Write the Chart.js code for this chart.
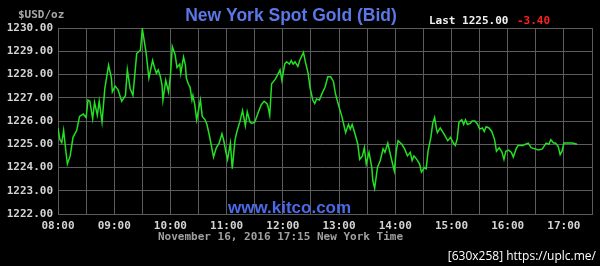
<!DOCTYPE html>
<html>
<head>
<meta charset="utf-8">
<script src="https://cdn.jsdelivr.net/npm/chart.js@4.4.0/dist/chart.umd.min.js"></script>
<style>
  html, body { margin: 0; padding: 0; background: #000; }
</style>
</head>
<body>
<canvas id="gold" width="600" height="266"></canvas>
<script>
// New York spot gold bid, Nov 16 2016
const times = [
  '08:00','08:02','08:04','08:06','08:08','08:10','08:13','08:16','08:20','08:23',
  '08:27','08:30','08:32','08:34','08:37','08:39','08:42','08:44','08:47','08:50',
  '08:54','08:57','08:58','09:01','09:04','09:08','09:12','09:14','09:17','09:20',
  '09:24','09:28','09:30','09:34','09:37','09:41','09:43','09:45','09:47','09:49',
  '09:51','09:52','09:55','09:58','10:00','10:02','10:05','10:07','10:10','10:11',
  '10:14','10:16','10:17','10:19','10:21','10:23','10:24','10:26','10:28','10:32',
  '10:34','10:37','10:39','10:42','10:46','10:49','10:52','10:55','10:57','10:59',
  '11:01','11:04','11:06','11:09','11:11','11:14','11:17','11:20','11:22','11:25',
  '11:27','11:30','11:34','11:37','11:40','11:43','11:44','11:46','11:48','11:52',
  '11:54','11:57','11:59','12:02','12:04','12:07','12:09','12:11','12:13','12:16',
  '12:18','12:22','12:24','12:27','12:29','12:32','12:34','12:36','12:39','12:42',
  '12:45','12:48','12:51','12:54','12:56','13:00','13:03','13:05','13:07','13:10',
  '13:12','13:14','13:17','13:20','13:22','13:25','13:27','13:29','13:32','13:35',
  '13:36','13:38','13:41','13:44','13:47','13:49','13:52','13:54','13:56','13:59',
  '14:01','14:03','14:07','14:10','14:13','14:16','14:18','14:20','14:23','14:26',
  '14:28','14:31','14:33','14:35','14:38','14:40','14:42','14:44','14:45','14:48',
  '14:52','14:56','14:59','15:02','15:04','15:06','15:08','15:11','15:13','15:15',
  '15:17','15:20','15:22','15:25','15:28','15:30','15:33','15:35','15:37','15:40',
  '15:43','15:46','15:48','15:51','15:54','15:56','15:58','16:01','16:04','16:06',
  '16:09','16:11','16:16','16:19','16:22','16:25','16:29','16:33','16:37','16:41',
  '16:44','16:46','16:49','16:51','16:54','16:56','16:58','17:00','17:03','17:09',
  '17:14'
];
const bids = [
  1225.70,1225.20,1225.07,1225.60,1224.85,1224.15,1224.50,1225.30,1225.60,1226.20,
  1226.30,1226.15,1226.90,1226.85,1226.10,1226.80,1226.25,1226.85,1225.95,1227.40,
  1228.40,1227.85,1227.25,1227.50,1227.35,1226.85,1227.10,1228.20,1227.40,1227.10,
  1228.90,1229.05,1229.97,1228.95,1227.85,1228.60,1228.30,1228.05,1228.20,1227.95,
  1227.55,1226.90,1227.75,1227.25,1227.95,1229.20,1228.85,1228.30,1228.45,1228.05,
  1228.75,1228.40,1227.85,1227.60,1227.45,1226.90,1227.10,1226.70,1226.05,1226.90,
  1226.20,1226.05,1225.85,1225.30,1224.45,1224.85,1225.05,1225.45,1225.15,1224.70,
  1224.35,1225.05,1223.95,1225.20,1225.55,1225.95,1226.45,1225.80,1226.40,1225.95,
  1225.90,1225.95,1226.40,1226.70,1226.85,1226.75,1226.65,1226.25,1227.60,1227.80,
  1227.95,1228.20,1227.75,1228.45,1228.55,1228.45,1228.60,1228.45,1228.55,1228.35,
  1228.60,1228.95,1228.55,1228.05,1227.45,1226.90,1226.75,1226.95,1226.90,1227.20,
  1227.45,1227.90,1227.90,1227.70,1227.20,1226.60,1226.20,1225.85,1225.50,1225.85,
  1225.65,1225.85,1225.45,1225.00,1224.35,1224.50,1224.85,1224.15,1224.65,1224.00,
  1223.45,1223.10,1224.00,1224.30,1224.80,1224.65,1225.05,1224.70,1224.35,1223.85,
  1224.70,1225.15,1225.00,1224.80,1224.50,1224.65,1224.30,1224.50,1224.35,1224.15,
  1223.80,1224.00,1223.95,1224.70,1225.30,1225.90,1226.15,1225.65,1225.50,1225.70,
  1225.45,1225.15,1225.30,1225.05,1224.95,1225.20,1225.95,1226.05,1225.85,1226.05,
  1225.85,1225.90,1226.00,1226.00,1225.85,1225.65,1225.70,1225.55,1225.75,1225.70,
  1225.55,1225.20,1224.70,1224.85,1224.65,1224.35,1224.70,1224.75,1224.65,1224.45,
  1224.80,1224.95,1224.95,1225.00,1225.05,1224.85,1224.80,1224.75,1224.80,1225.05,
  1225.00,1225.20,1225.05,1225.05,1224.90,1224.55,1224.70,1225.05,1225.05,1225.05,
  1225.00
];
const priceTicks = [1222, 1223, 1224, 1225, 1226, 1227, 1228, 1229, 1230];
const hourLabels = ['08:00','09:00','10:00','11:00','12:00','13:00','14:00','15:00','16:00','17:00'];

const TITLE = 'New York Spot Gold (Bid)';
const UNIT = '$USD/oz';
const LAST_LABEL = 'Last 1225.00';
const CHANGE_LABEL = '-3.40';
const SITE = 'www.kitco.com';
const STAMP = 'November 16, 2016 17:15 New York Time';
const WATERMARK = '[630x258] https://uplc.me/';

const OPEN_MIN = 8 * 60;
function toMinutes(t) {
  const [h, m] = t.split(':').map(Number);
  return h * 60 + m - OPEN_MIN;
}

const MONO = 'bold 11px "DejaVu Sans Mono", monospace';
const GRID = '#5c5c5c';
const TICK = '#d4d4d4';

const textPlugin = {
  id: 'kitcoText',
  beforeDraw(chart) {
    const ctx = chart.ctx;
    ctx.save();
    ctx.fillStyle = '#000';
    ctx.fillRect(0, 0, chart.width, chart.height);
    ctx.restore();
  },
  afterDraw(chart) {
    const ctx = chart.ctx;
    ctx.save();
    ctx.textBaseline = 'middle';

    ctx.font = 'bold 17.5px "Liberation Sans", Arial, sans-serif';
    ctx.fillStyle = '#5a78e8';
    ctx.textAlign = 'center';
    ctx.fillText(TITLE, 291, 16);

    ctx.textAlign = 'left';
    ctx.font = MONO;
    ctx.fillStyle = '#a8a8a8';
    ctx.fillText(UNIT, 18, 15);

    ctx.fillStyle = '#f0f0f0';
    ctx.fillText(LAST_LABEL, 429, 21);
    ctx.fillStyle = '#ff2020';
    ctx.fillText(CHANGE_LABEL, 517, 21);

    ctx.fillStyle = '#a0a0a0';
    ctx.fillText(STAMP, 158, 237);

    ctx.font = 'bold 17px "Liberation Sans", Arial, sans-serif';
    ctx.fillStyle = '#4a6ae8';
    ctx.fillText(SITE, 228, 208);

    ctx.font = '12px "Open Sans", sans-serif';
    ctx.fillStyle = '#ffffff';
    ctx.textAlign = 'right';
    ctx.fillText(WATERMARK, 596, 257);
    ctx.restore();
  }
};

new Chart(document.getElementById('gold'), {
  type: 'line',
  data: {
    datasets: [{
      label: 'Bid',
      data: times.map((t, i) => ({ x: toMinutes(t), y: bids[i] })),
      borderColor: '#22e022',
      borderWidth: 1.5,
      pointRadius: 0,
      tension: 0,
      fill: false
    }]
  },
  options: {
    responsive: false,
    animation: false,
    devicePixelRatio: 1,
    layout: { padding: { top: 28, right: 8, left: 0, bottom: 0 } },
    plugins: { legend: { display: false }, title: { display: false }, tooltip: { enabled: false } },
    scales: {
      x: {
        type: 'linear',
        min: 0,
        max: 570,
        afterFit(s) { s.height = 52; },
        grid: { color: GRID, lineWidth: 1, drawTicks: false },
        border: { color: GRID },
        ticks: {
          stepSize: 30,
          autoSkip: false,
          maxRotation: 0,
          padding: 6,
          color: TICK,
          font: { family: '"DejaVu Sans Mono", monospace', size: 11, weight: 'bold' },
          callback: v => (v % 60 === 0 ? hourLabels[v / 60] : '')
        }
      },
      y: {
        min: priceTicks[0],
        max: priceTicks[priceTicks.length - 1],
        afterFit(s) { s.width = 58; },
        afterBuildTicks(s) { s.ticks = priceTicks.map(v => ({ value: v })); },
        grid: { color: GRID, lineWidth: 1, drawTicks: false },
        border: { color: GRID },
        ticks: {
          padding: 5,
          color: TICK,
          font: { family: '"DejaVu Sans Mono", monospace', size: 11, weight: 'bold' },
          callback: v => v.toFixed(2)
        }
      }
    }
  },
  plugins: [textPlugin]
});
</script>
</body>
</html>
